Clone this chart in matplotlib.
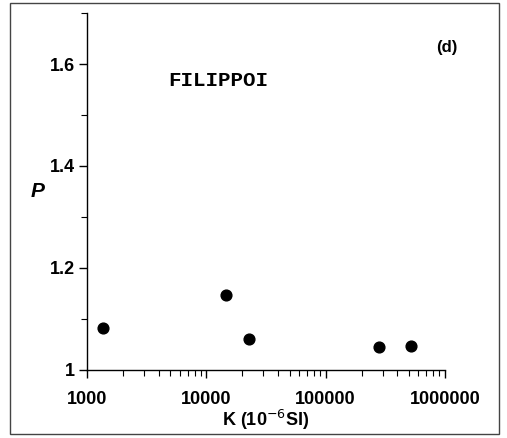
import matplotlib
matplotlib.use('Agg')
import matplotlib.pyplot as plt
from matplotlib.patches import Rectangle
from matplotlib.ticker import FixedLocator, LogLocator, NullFormatter, MultipleLocator

# data
K = [1370, 14500, 23000, 282000, 516000]
P = [1.082, 1.148, 1.060, 1.046, 1.047]

x_ticks = [1000, 10000, 100000, 1000000]
x_tick_labels = ['1000', '10000', '100000', '1000000']
y_ticks = [1.0, 1.2, 1.4, 1.6]
y_tick_labels = ['1', '1.2', '1.4', '1.6']

plt.rcParams['font.family'] = ['Liberation Sans', 'DejaVu Sans']

fig = plt.figure(figsize=(5.07, 4.38), dpi=100)
ax = fig.add_axes([0.1716, 0.1553, 0.706, 0.815])

ax.scatter(K, P, s=60, color='black', zorder=3)

ax.set_xscale('log')
ax.set_xlim(1000, 1000000)
ax.set_ylim(1.0, 1.7)

ax.xaxis.set_major_locator(FixedLocator(x_ticks))
ax.set_xticklabels(x_tick_labels, fontsize=13, fontweight='bold')
ax.xaxis.set_minor_locator(LogLocator(base=10, subs=range(2, 10)))
ax.xaxis.set_minor_formatter(NullFormatter())

ax.set_yticks(y_ticks)
ax.set_yticklabels(y_tick_labels, fontsize=13, fontweight='bold')
ax.yaxis.set_minor_locator(MultipleLocator(0.1))

ax.tick_params(which='major', direction='out', length=6, width=1, pad=3)
ax.tick_params(axis='x', which='major', pad=9)
ax.tick_params(which='minor', direction='out', length=4, width=0.8)

for side in ('top', 'right'):
    ax.spines[side].set_visible(False)
for side in ('left', 'bottom'):
    ax.spines[side].set_linewidth(1.0)

ax.set_xlabel('K (10$^{-6}$SI)', fontsize=13, fontweight='bold', labelpad=0)
ax.text(-0.137, 0.50, 'P', transform=ax.transAxes, ha='center', va='center',
        fontsize=15, fontweight='bold', style='italic')

ax.text(0.368, 0.81, 'FILIPPOI', transform=ax.transAxes, ha='center', va='center',
        fontsize=15, fontweight='bold', family='Liberation Mono')
ax.text(1.006, 0.902, '(d)', transform=ax.transAxes, ha='center', va='center',
        fontsize=12, fontweight='bold')

# outer frame around the whole panel
fig.patches.append(Rectangle((0.02, 0.008), 0.965, 0.985, transform=fig.transFigure,
                             fill=False, edgecolor='#444444', linewidth=1.0))

fig.savefig('out.png', dpi=100)
